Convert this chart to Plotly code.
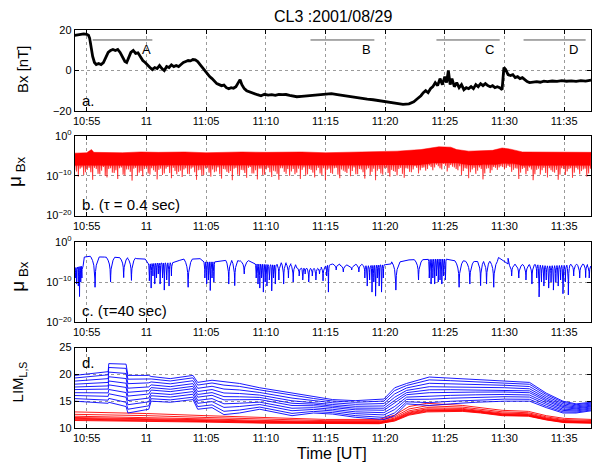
import numpy as np
import pandas as pd
import plotly.graph_objects as go

W, H = 597, 467
T0 = pd.Timestamp("2001-08-29 10:55:00")

def tt(m):
    return [(T0 + pd.Timedelta(minutes=float(v))).strftime("%Y-%m-%d %H:%M:%S.%f") for v in np.atleast_1d(m)]

# ---------------- data (minutes after 10:55 UT) ----------------
tick_min = [0, 5, 10, 15, 20, 25, 30, 35, 40]
tick_labels = ["10:55", "11", "11:05", "11:10", "11:15", "11:20", "11:25", "11:30", "11:35"]

# Panel a: Bx [nT]
bx_t = [-1.0, -0.75, -0.5, -0.25, 0.0, 0.15, 0.25, 0.35, 0.5, 0.65, 0.8, 1.0, 1.2, 1.4, 1.6, 1.8, 2.0, 2.2, 2.4, 2.6,
        2.8, 3.0, 3.2, 3.35, 3.5, 3.7, 3.9, 4.1, 4.3, 4.5, 4.7, 4.9, 5.1, 5.3, 5.5, 5.7, 5.9, 6.1, 6.3, 6.5,
        6.7, 6.9, 7.1, 7.3, 7.5, 7.7, 7.9, 8.1, 8.3, 8.5, 8.7, 8.9, 9.1, 9.3, 9.5, 9.7, 9.9, 10.1, 10.3, 10.5,
        10.7, 10.9, 11.1, 11.3, 11.5, 11.7, 11.9, 12.1, 12.3, 12.5, 12.7, 12.85, 13.0, 13.2, 13.4, 13.6, 13.8, 14.0, 14.3, 14.6,
        14.9, 15.2, 15.5, 15.8, 16.1, 16.4, 16.7, 17.0, 17.3, 17.6, 18.0, 18.5, 19.0, 19.5, 20.0, 20.5, 21.0, 21.5, 22.0, 22.5,
        23.0, 23.5, 24.0, 24.5, 25.0, 25.5, 26.0, 26.5, 27.0, 27.4, 27.7, 28.0, 28.2, 28.4, 28.6, 28.8, 29.0, 29.2, 29.4, 29.6,
        29.8, 30.0, 30.15, 30.3, 30.45, 30.6, 30.8, 31.0, 31.2, 31.4, 31.6, 31.8, 32.0, 32.2, 32.4, 32.6, 32.8, 33.0, 33.2, 33.4,
        33.6, 33.8, 34.0, 34.2, 34.4, 34.6, 34.8, 34.95, 35.1, 35.3, 35.5, 35.7, 35.9, 36.1, 36.3, 36.5, 36.7, 36.9, 37.1, 37.4,
        37.7, 38.0, 38.3, 38.6, 39.0, 39.4, 39.8, 40.2, 40.6, 41.0, 41.4, 41.8, 42.25]
bx_v = [17.5, 17.8, 17.9, 18.2, 18.0, 17.5, 16.0, 12.0, 7.0, 4.0, 3.0, 3.5, 3.0, 4.0, 7.0, 9.0, 10.0, 10.5, 10.0, 10.5,
        9.0, 7.0, 4.5, 4.0, 6.0, 9.0, 10.0, 8.5, 8.8, 7.0, 5.0, 4.0, 2.5, 1.5, 0.5, 1.5, 1.0, 2.5, 1.0, 0.0,
        2.0, 1.5, 2.8, 2.0, 2.5, 2.0, 3.0, 4.0, 4.5, 5.0, 4.8, 5.5, 5.3, 4.5, 3.0, 1.5, 0.0, -2.0, -3.0, -4.0,
        -5.5, -6.5, -7.0, -7.5, -7.2, -8.5, -9.0, -8.5, -8.8, -8.0, -6.0, -4.5, -7.0, -9.0, -10.0, -10.5, -11.0, -11.5, -12.0, -12.5,
        -11.8, -12.2, -12.0, -12.3, -11.8, -12.0, -11.9, -12.3, -12.8, -13.0, -12.8, -12.5, -12.3, -12.0, -11.8, -11.5, -12.0, -12.5, -13.0, -13.5,
        -14.0, -14.2, -14.5, -15.0, -15.3, -15.8, -16.3, -16.8, -16.5, -15.5, -14.0, -12.5, -11.0, -10.0, -11.0, -9.0, -8.0, -6.0, -7.5, -4.0,
        -7.0, -3.0, -6.0, 0.0, -7.0, -4.0, -8.0, -6.0, -8.5, -7.0, -9.5, -8.5, -9.0, -8.0, -9.0, -7.0, -8.0, -6.5, -7.5, -6.5,
        -7.5, -8.0, -7.5, -8.5, -8.0, -8.5, -9.5, 1.5, 0.5, -2.0, -2.5, -2.0, -3.5, -3.0, -4.0, -3.5, -4.5, -5.5, -6.0, -5.8,
        -5.5, -5.8, -5.3, -5.5, -5.2, -5.4, -5.0, -5.3, -5.1, -5.4, -5.0, -5.2, -4.8]

seg_names = ["A", "B", "C", "D"]
seg_start = [0.5, 18.75, 29.3, 36.6]
seg_end = [5.5, 24.1, 34.6, 41.8]
seg_label_t = [5.0, 23.4, 33.75, 40.75]
seg_level = 15.2
seg_label_level = 10.3

# Panel b: mu_Bx (tau = 0.4 s), log10 values of the dense band
b_hi_t = [-1, 0, 0.4, 0.6, 3, 4.5, 6, 8.2, 10, 13, 15, 18, 20, 24, 26, 28, 29.5, 30.5, 31, 32, 34, 34.8, 35.5, 36.5, 40, 42.25]
b_hi_v = [-4.3, -4.2, -3.4, -4.1, -4.2, -4.0, -4.1, -4.0, -4.2, -4.0, -4.1, -4.0, -4.2, -4.0, -3.8, -3.4, -2.7, -2.8, -3.4, -3.8,
          -3.6, -3.0, -3.3, -4.0, -4.1, -4.1]
b_edge_t = [-1, 28, 29, 31, 32, 34.3, 34.8, 35.8, 36.5, 42.25]
b_edge_v = [-7.4, -7.3, -6.8, -6.8, -7.3, -7.2, -6.9, -7.0, -7.4, -7.4]
b_sp_step = 0.3
b_sp1_v = [-8.5, -10.2, -7.9, -9.1, -8.0, -11.0, -8.3, -9.6, -7.8, -10.4,
           -8.1, -9.3, -10.8, -7.9, -9.9, -8.4, -11.2, -8.0, -9.2, -10.1,
           -7.9, -9.7, -8.6, -10.9, -8.2, -9.4, -7.8, -10.6, -8.8, -9.0,
           -10.3, -8.1, -9.6, -7.9, -11.0, -8.5, -9.8, -8.0, -10.2, -9.1,
           -7.9, -10.7, -8.4, -9.3, -11.1, -8.0, -9.9, -8.6, -10.5, -7.8,
           -9.4, -10.9, -8.2, -9.7, -8.0, -10.3, -8.9, -11.0, -8.1, -9.5,
           -10.0, -8.3, -9.2, -10.8, -7.9, -9.6, -8.5, -10.4, -8.0, -9.8,
           -11.0, -8.2, -9.5, -8.0, -10.6, -8.7, -9.3, -10.1, -7.9, -9.6,
           -8.4, -10.7, -8.1, -9.0, -11.1, -8.3, -9.7, -8.0, -10.2, -8.8,
           -9.9, -8.0, -10.5, -8.2, -9.1, -7.6, -9.4, -8.0, -8.7, -7.4,
           -8.6, -7.2, -8.1, -7.0, -8.9, -7.3, -7.9, -8.6, -9.8, -8.1,
           -10.6, -8.4, -9.5, -7.9, -10.9, -8.2, -9.3, -7.8, -8.5, -7.6,
           -8.4, -7.5, -9.0, -8.1, -10.8, -8.3, -9.6, -7.9, -11.1, -8.5,
           -9.7, -8.0, -10.4, -8.6, -9.2, -11.0, -8.1, -9.8, -8.3, -10.5,
           -8.0, -9.6, -8.4, -10.2, -8.2]
b_sp2_v = [-8.9, -8.2, -9.8, -8.5, -9.1, -8.0, -9.5, -8.7, -10.0, -8.3,
           -9.2, -8.6, -8.1, -9.7, -8.4, -9.0, -8.2, -9.9, -8.8, -8.3,
           -9.4, -8.1, -9.0, -8.5, -9.8, -8.2, -9.3, -8.0, -9.6, -8.7,
           -8.4, -9.5, -8.2, -9.1, -8.6, -9.9, -8.1, -9.2, -8.4, -8.9,
           -9.6, -8.3, -9.0, -8.8, -8.2, -9.7, -8.5, -9.3, -8.0, -9.4,
           -8.6, -8.2, -9.8, -8.4, -9.1, -8.7, -9.5, -8.1, -9.0, -8.3,
           -8.9, -9.6, -8.2, -8.5, -9.9, -8.3, -9.2, -8.6, -9.4, -8.1,
           -8.5, -9.3, -8.1, -9.7, -8.4, -9.0, -8.2, -8.8, -9.6, -8.3,
           -9.1, -8.4, -9.8, -8.2, -8.7, -9.4, -8.1, -9.3, -8.5, -9.0,
           -8.3, -9.5, -8.1, -9.0, -8.4, -8.0, -8.6, -7.9, -8.3, -7.8,
           -7.9, -7.6, -8.4, -7.5, -8.0, -7.7, -8.3, -7.6, -8.8, -8.2,
           -9.1, -8.0, -8.7, -8.3, -9.4, -8.1, -8.6, -8.0, -7.9, -7.8,
           -8.0, -7.8, -8.5, -8.2, -9.2, -8.0, -8.8, -8.4, -9.6, -8.2,
           -8.6, -9.3, -8.1, -9.0, -8.5, -9.7, -8.3, -8.9, -8.1, -9.2,
           -8.4, -8.8, -8.2, -9.4]

# Panel c: mu_Bx (tau = 40 s), log10 baseline + cusp minima
c_base_t = [-1.0, -0.3, -0.2, 0.3, 1.0, 1.5, 2.5, 3.5, 4.2, 4.9, 5.2, 6.0, 7.2, 7.8, 8.3, 9.0, 9.5, 9.9, 10.7, 11.3,
            12.0, 12.8, 13.5, 14.1, 15.9, 16.5, 17.3, 17.6, 18.5, 19.5, 20.4, 21.0, 22.0, 23.0, 23.2, 25.0, 25.5, 26.2, 27.0, 28.5,
            29.2, 30.0, 31.0, 32.5, 34.2, 34.5, 35.3, 35.5, 36.5, 37.6, 38.5, 40.4, 41.0, 42.0, 42.25]
c_base_v = [-6.5, -6.0, -3.8, -3.6, -3.9, -3.8, -3.9, -4.0, -4.2, -4.3, -5.5, -5.3, -5.2, -4.6, -4.3, -4.3, -4.2, -5.0, -5.0, -4.8,
            -4.6, -4.8, -4.6, -5.5, -5.8, -5.2, -5.7, -6.5, -6.6, -6.6, -5.7, -5.5, -6.0, -5.5, -6.0, -5.7, -5.5, -4.6, -4.5, -4.4,
            -4.3, -4.3, -4.7, -4.9, -4.9, -3.9, -4.1, -5.5, -5.7, -5.7, -6.0, -5.8, -5.5, -5.7, -6.5]
c_dip_t = [-0.95, -0.85, -0.7, -0.6, -0.5, -0.4, 0.7, 2.0, 3.1, 3.75,
           5.25, 5.4, 5.55, 5.7, 5.85, 6.0, 6.15, 6.35, 6.5, 6.7, 6.9, 7.1, 8.5,
           9.9, 10.05, 10.2, 10.35, 10.5, 10.65, 11.9, 12.4, 13.2,
           14.2, 14.35, 14.5, 14.65, 14.8, 14.95, 15.1, 15.3, 15.5, 15.65, 15.8,
           16.1, 16.5, 16.9, 17.3, 17.8, 18.1, 18.3, 18.6, 18.9, 19.2, 19.5, 19.8, 20.1, 20.25,
           20.9, 21.5, 22.2, 22.8, 23.3, 23.5, 23.7, 23.9, 24.05, 24.2, 24.35, 24.5, 24.7, 24.85,
           25.9, 27.8, 28.7, 28.85, 29.0, 29.15, 29.3, 29.45, 29.6, 29.75, 29.9, 30.05,
           31.2, 32.1, 33.0, 33.5, 34.1, 35.6, 36.2, 36.8, 37.3,
           37.7, 37.9, 38.1, 38.3, 38.5, 38.7, 38.9, 39.1, 39.3, 39.5, 39.7, 39.9, 40.1, 40.35,
           40.8, 41.3, 41.8, 42.1]
c_dip_v = [-9.0, -10.5, -11.0, -13.6, -10.0, -9.0, -11.3, -10.0, -8.9, -9.6,
           -9.7, -11.5, -8.5, -10.5, -9.0, -8.0, -10.5, -9.0, -12.0, -9.5, -11.0, -8.5, -11.3,
           -9.0, -10.5, -9.5, -12.1, -9.0, -10.0, -10.5, -10.9, -8.0,
           -9.0, -10.5, -11.5, -9.0, -12.5, -10.0, -11.0, -9.5, -12.2, -9.0, -10.5,
           -9.5, -10.5, -9.0, -10.0, -8.5, -9.5, -8.0, -10.0, -8.5, -9.5, -8.0, -9.7, -8.5, -12.5,
           -7.0, -7.5, -7.0, -7.5, -9.0, -11.0, -9.5, -12.5, -10.0, -13.5, -9.0, -11.0, -12.5, -9.0,
           -12.0, -9.5, -9.0, -10.5, -9.0, -10.5, -8.5, -10.0, -9.5, -10.5, -8.5, -9.5,
           -11.3, -10.5, -10.9, -10.5, -11.3, -8.5, -9.0, -9.5, -10.5,
           -9.0, -13.7, -10.0, -11.0, -9.5, -11.5, -10.0, -12.0, -10.0, -11.0, -9.5, -12.9, -10.0, -13.2,
           -8.5, -9.0, -8.9, -9.0]

# Panel d: LIM_L,S envelopes of the blue (L) and red (S) bundles
blue_t = [-1, 0.5, 1.8, 1.85, 3.3, 3.45, 5.2, 5.4, 7.0, 8.9, 9.3, 10.5, 11.5, 12.8, 14.5, 17.2, 19.0, 20.6, 22.5, 24.9,
          25.8, 26.8, 28.7, 30.5, 32.6, 35.0, 37.1, 38.5, 39.9, 41.0, 42.25]
blue_hi = [19.8, 20.2, 20.5, 22.0, 21.9, 19.8, 19.8, 19.6, 19.2, 19.8, 18.5, 18.9, 18.6, 18.3, 17.5, 16.5, 15.8, 15.3, 15.1, 15.4,
           17.5, 18.3, 19.5, 19.3, 19.0, 18.8, 18.5, 16.5, 15.0, 14.5, 14.8]
blue_lo = [15.0, 14.8, 14.6, 14.8, 14.0, 12.8, 13.5, 15.0, 14.8, 15.3, 13.5, 13.8, 12.5, 12.8, 13.5, 12.3, 12.8, 12.6, 12.0, 11.6,
           12.3, 14.5, 14.2, 14.5, 14.8, 15.0, 15.0, 13.8, 12.8, 12.8, 13.2]
blue_pos = [0.0, 0.1, 0.22, 0.33, 0.45, 0.55, 0.66, 0.78, 0.9, 1.0]

red_t = [-1, 5, 10, 15, 20, 24.5, 25.8, 27.0, 28.5, 31.5, 33.0, 34.8, 37.0, 38.5, 40.0, 42.25]
red_hi = [13.0, 12.7, 12.3, 11.9, 11.6, 11.6, 12.4, 14.0, 14.6, 14.2, 13.8, 13.3, 13.1, 12.3, 11.8, 11.6]
red_lo = [11.4, 11.3, 11.1, 10.9, 10.8, 10.8, 11.3, 12.4, 13.0, 13.1, 12.8, 12.3, 12.2, 11.5, 11.0, 10.9]
red_pos = [0.0, 0.08, 0.16, 0.25, 0.35, 0.5, 0.72, 1.0]

# ---------------- figure ----------------
FONT = "Liberation Sans, Arial, Helvetica, sans-serif"
X0, X1 = 73 / W, 591 / W
panels_px = [(23, 106), (132, 214), (241, 324), (350, 433)]
doms = [[1 - b / H, 1 - t / H] for t, b in panels_px]

fig = go.Figure()

# a
fig.add_trace(go.Scatter(x=tt(bx_t), y=bx_v, mode="lines", line=dict(color="black", width=2.8),
                         xaxis="x", yaxis="y", hoverinfo="skip"))

# b : band polygon, upper envelope then lower edge with thin spikes
low = []
for k, d in enumerate(b_sp1_v):
    t = -1 + b_sp_step * k
    low.append((t, d))
for k, d in enumerate(b_sp2_v):
    t = -1 + b_sp_step * (k + 0.5)
    low.append((t, d))
low.sort(key=lambda p: p[0])
low_pts = []
for t, d in low:
    e = float(np.interp(t, b_edge_t, b_edge_v))
    low_pts += [(t - 0.035, e), (t, d), (t + 0.035, e)]
poly_t = list(b_hi_t) + [p[0] for p in low_pts[::-1]]
poly_v = list(b_hi_v) + [p[1] for p in low_pts[::-1]]
fig.add_trace(go.Scatter(x=tt(poly_t), y=[10 ** v for v in poly_v], mode="lines", fill="toself",
                         fillcolor="rgb(255,0,0)", line=dict(color="rgb(255,0,0)", width=0.5),
                         xaxis="x2", yaxis="y2", hoverinfo="skip"))

# c : arches between cusps
dts = list(c_dip_t)
windows = []
pts = []
for i, (t, d) in enumerate(zip(c_dip_t, c_dip_v)):
    gaps = []
    if i > 0:
        gaps.append(t - dts[i - 1])
    if i < len(dts) - 1:
        gaps.append(dts[i + 1] - t)
    w = min(0.35, 0.5 * min(gaps))
    windows.append((t - w, t + w))
    top = float(np.interp(t, c_base_t, c_base_v))
    for f in [1.0, 0.6, 0.3, 0.12, 0.04]:
        drop = (top - d) * np.log10(f) / np.log10(0.012)
        pts.append((t - w * f, top - drop))
        pts.append((t + w * f, top - drop))
    pts.append((t, d))
for t, v in zip(c_base_t, c_base_v):
    if not any(a < t < b for a, b in windows):
        pts.append((t, v))
pts.sort(key=lambda p: p[0])
fig.add_trace(go.Scatter(x=tt([p[0] for p in pts]), y=[10 ** p[1] for p in pts], mode="lines",
                         line=dict(color="rgb(0,0,255)", width=1.0), xaxis="x3", yaxis="y3", hoverinfo="skip"))

# d
for f in red_pos:
    fig.add_trace(go.Scatter(x=tt(red_t), y=[lo + f * (hi - lo) for lo, hi in zip(red_lo, red_hi)], mode="lines",
                             line=dict(color="rgb(255,0,0)", width=0.9), xaxis="x4", yaxis="y4", hoverinfo="skip"))
for f in blue_pos:
    fig.add_trace(go.Scatter(x=tt(blue_t), y=[lo + f * (hi - lo) for lo, hi in zip(blue_lo, blue_hi)], mode="lines",
                             line=dict(color="rgb(0,0,255)", width=0.9), xaxis="x4", yaxis="y4",
                             hoverinfo="skip"))

common_x = dict(range=tt([-1, 42.25]), type="date", tickmode="array", tickvals=tt(tick_min), ticktext=tick_labels,
                ticks="inside", ticklen=4, tickcolor="black", showline=True, linecolor="black", linewidth=1,
                mirror="ticks", showgrid=True, gridcolor="#9a9a9a", griddash="dot", gridwidth=1,
                tickfont=dict(family=FONT, size=11, color="black"), zeroline=False, domain=[X0, X1])
common_y = dict(ticks="inside", ticklen=4, tickcolor="black", showline=True, linecolor="black", linewidth=1,
                mirror="ticks", showgrid=True, gridcolor="#9a9a9a", griddash="dot", gridwidth=1,
                tickfont=dict(family=FONT, size=11, color="black"), zeroline=False, tickmode="array")

logvals = [1e-20, 1e-10, 1]
logtext = ["10<sup>−20</sup>", "10<sup>−10</sup>", "10<sup>0</sup>"]

lay = dict(width=W, height=H, margin=dict(l=0, r=0, t=0, b=0), plot_bgcolor="white", paper_bgcolor="white",
           showlegend=False, font=dict(family=FONT, color="black"))
for i in range(4):
    xs = "xaxis" if i == 0 else f"xaxis{i+1}"
    ys = "yaxis" if i == 0 else f"yaxis{i+1}"
    lay[xs] = dict(common_x, anchor="y" if i == 0 else f"y{i+1}")
    yd = dict(common_y, domain=doms[i], anchor="x" if i == 0 else f"x{i+1}")
    if i == 0:
        yd.update(range=[-20, 20], tickvals=[-20, 0, 20])
    elif i in (1, 2):
        yd.update(type="log", range=[-20, 0], tickvals=logvals, ticktext=logtext)
    else:
        yd.update(range=[10, 25], tickvals=[10, 15, 20, 25])
    lay[ys] = yd
fig.update_layout(**lay)

# A-D segments and labels
for n, s, e, lt in zip(seg_names, seg_start, seg_end, seg_label_t):
    fig.add_shape(type="line", xref="x", yref="y", x0=tt(s)[0], x1=tt(e)[0], y0=seg_level, y1=seg_level,
                  line=dict(color="#555555", width=1))
    fig.add_annotation(xref="x", yref="y", x=tt(lt)[0], y=seg_label_level, text=n, showarrow=False,
                       font=dict(family=FONT, size=13, color="black"))

def ann(px, py, text, size, angle=0, xanchor="center"):
    fig.add_annotation(xref="paper", yref="paper", x=px / W, y=1 - py / H, text=text, showarrow=False,
                       textangle=angle, xanchor=xanchor, yanchor="middle",
                       font=dict(family=FONT, size=size, color="black"))

ann(332, 9, "CL3 :2001/08/29", 16)
ann(331, 459, "Time [UT]", 16)
ann(20, 63, "Bx [nT]", 15, -90)
ann(14, 168, "μ<sub> Bx</sub>", 19, -90)
ann(17, 276, "μ<sub> Bx</sub>", 19, -90)
ann(17, 385, "LIM<sub>L,S</sub>", 15, -90)
ann(78, 95, "a.", 15, xanchor="left")
ann(78, 203, "b. (τ = 0.4 sec)", 15, xanchor="left")
ann(78, 312, "c. (τ=40 sec)", 15, xanchor="left")
ann(78, 365, "d.", 15, xanchor="left")

fig.write_html("out.html")
